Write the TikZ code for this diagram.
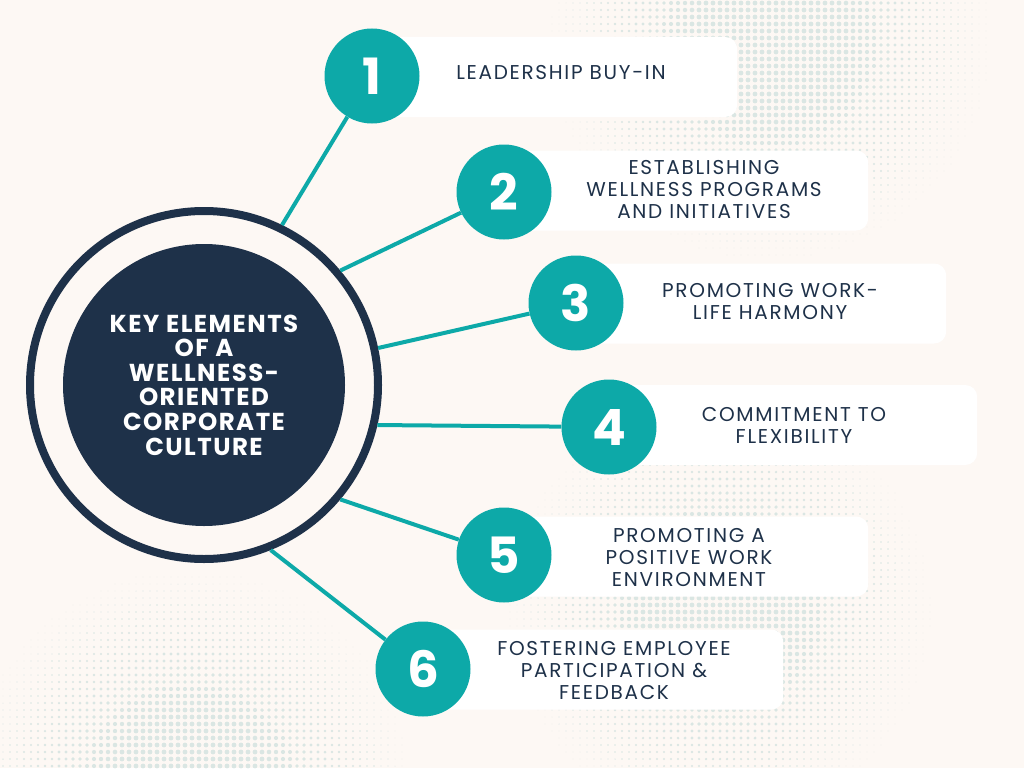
\documentclass[tikz,border=0pt]{standalone}
\usepackage{fontspec}
\setmainfont{Poppins}
\newfontfamily\lightf{Poppins}[LetterSpace=8.5]
\newfontfamily\boldf{Poppins Bold}[LetterSpace=6]
\newfontfamily\numf{Poppins Bold}
\definecolor{bgc}{HTML}{FDF8F4}
\definecolor{dotc}{HTML}{DAE6E3}
\definecolor{tealc}{HTML}{0DA9A8}
\definecolor{navyc}{HTML}{1E3149}
\tikzset{
  boxshape/.style={fill=white, rounded corners=12pt, draw=none, inner sep=0pt, anchor=west, minimum height=80pt},
  numc/.style={circle, fill=tealc, minimum size=95pt, inner sep=0pt, text=white, font=\numf\fontsize{50}{50}\selectfont},
  lbl/.style={align=center, text=navyc, font=\lightf\fontsize{20}{22}\selectfont, inner sep=0pt},
  link/.style={draw=tealc, line width=4pt},
}
\newcommand\halftone[7]{% cx cy R xstart xend ystart yend
  \foreach \gx in {#4,\the\numexpr#4+7\relax,...,#5}{%
    \foreach \gy in {#6,\the\numexpr#6+7\relax,...,#7}{%
      \pgfmathsetmacro\rr{2.4*min(1,1.5*(1-veclen((\gx-#1)/100,(\gy-#2)/100)*100/#3))}%
      \ifdim\rr pt>0.3pt \fill[dotc] (\gx,\gy) circle[radius=\rr];\fi
    }}}
\begin{document}
\begin{tikzpicture}[x=1pt,y=-1pt]
\fill[bgc] (0,0) rectangle (1024,768);
\useasboundingbox (0,0) rectangle (1024,768);
% halftone dots
\halftone{770}{40}{240}{531}{1014}{3}{283}
\halftone{720}{610}{230}{489}{951}{381}{766}
\halftone{190}{790}{240}{3}{430}{549}{766}
% boxes
\node[boxshape, minimum width=365pt] (b1) at (372,77) {};
\node[boxshape, minimum width=364pt] (b2) at (504,190.5) {};
\node[boxshape, minimum width=370pt] (b3) at (576,303.5) {};
\node[boxshape, minimum width=368pt] (b4) at (609,425) {};
\node[boxshape, minimum width=364pt] (b5) at (504,556.5) {};
\node[boxshape, minimum width=360pt] (b6) at (423,669.5) {};
% centre
\node[circle, draw=navyc, line width=8pt, minimum size=348pt, inner sep=0pt] (ring) at (204,385) {};
\node[circle, fill=navyc, minimum size=282pt, inner sep=0pt, text=white, align=center,
      font=\boldf\fontsize{24.5}{24.6}\selectfont] (core) at (204,385)
      {KEY ELEMENTS\\OF A\\WELLNESS-\\ORIENTED\\CORPORATE\\CULTURE};
% number circles
\node[numc] (n1) at (372,76) {1};
\node[numc] (n2) at (504,192) {2};
\node[numc] (n3) at (576,303) {3};
\node[numc] (n4) at (609,427) {4};
\node[numc] (n5) at (504,555) {5};
\node[numc] (n6) at (423,669) {6};
% connectors
\draw[link] (ring.64) -- (n1);
\draw[link] (ring.40) -- (n2);
\draw[link] (ring.12) -- (n3);
\draw[link] (ring.-13) -- (n4);
\draw[link] (ring.-40) -- (n5);
\draw[link] (ring.-68) -- (n6);
% labels
\node[lbl] (t1) at (561,73) {LEADERSHIP BUY-IN};
\node[lbl] (t2) at (704,189.5) {ESTABLISHING\\WELLNESS PROGRAMS\\AND INITIATIVES};
\node[lbl] (t3) at (770,302) {PROMOTING WORK-\\LIFE HARMONY};
\node[lbl] (t4) at (794,425) {COMMITMENT TO\\FLEXIBILITY};
\node[lbl] (t5) at (689,558) {PROMOTING A\\POSITIVE WORK\\ENVIRONMENT};
\node[lbl] (t6) at (614,670) {FOSTERING EMPLOYEE\\PARTICIPATION \&\\FEEDBACK};
\end{tikzpicture}
\end{document}
